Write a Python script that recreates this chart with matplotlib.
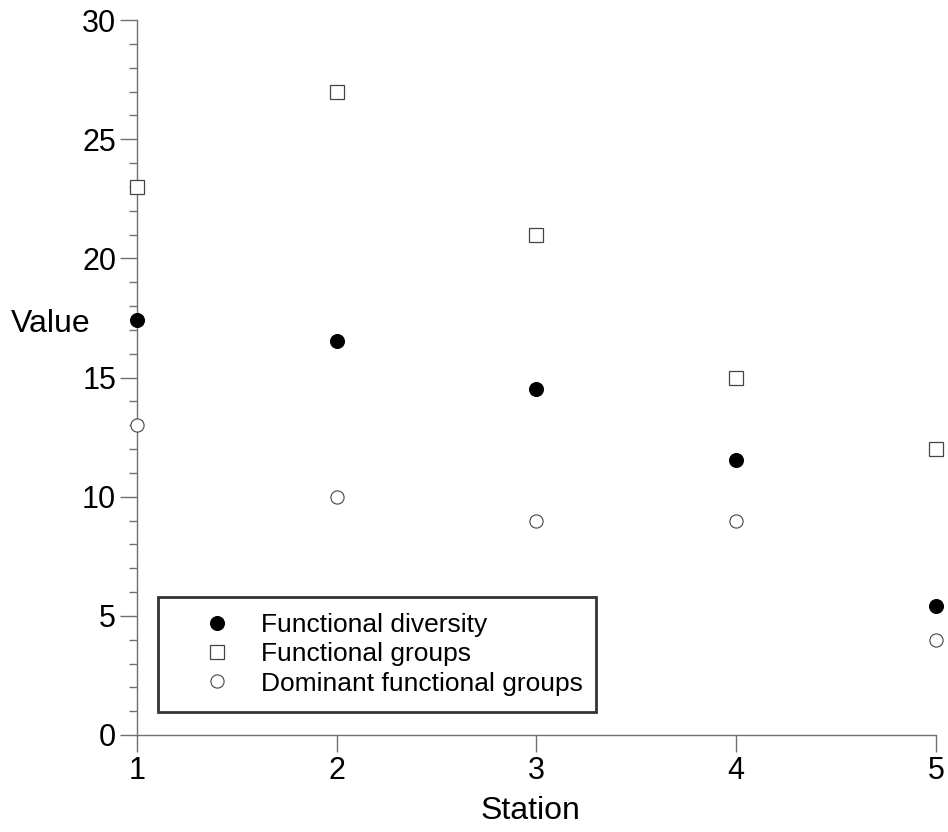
import matplotlib
matplotlib.use("Agg")
import matplotlib.pyplot as plt
from matplotlib.ticker import MultipleLocator

plt.rcParams['font.family'] = ['Liberation Sans', 'DejaVu Sans']

stations = [1, 2, 3, 4, 5]
functional_diversity = [17.4, 16.55, 14.5, 11.55, 5.4]
functional_groups = [23, 27, 21, 15, 12]
dominant_groups = [13, 10, 9, 9, 4]
x_ticks = [1, 2, 3, 4, 5]
y_ticks = [0, 5, 10, 15, 20, 25, 30]

fig = plt.figure(figsize=(9.48, 8.32), dpi=100)
ax = fig.add_axes([137/948, 97/832, (936-137)/948, (735-20)/832])

spine_col = '#707070'
ax.plot(stations, functional_diversity, linestyle='none', marker='o', ms=10,
        mfc='black', mec='black', mew=0.8, label='Functional diversity', clip_on=False, zorder=3)
ax.plot(stations, functional_groups, linestyle='none', marker='s', ms=9.5,
        mfc='white', mec='#444444', mew=0.9, label='Functional groups', clip_on=False, zorder=3)
ax.plot(stations, dominant_groups, linestyle='none', marker='o', ms=9.5,
        mfc='white', mec='#444444', mew=0.8, label='Dominant functional groups', clip_on=False, zorder=3)

ax.set_xlim(1, 5)
ax.set_ylim(0, 30)
ax.set_xticks(x_ticks)
ax.set_yticks(y_ticks)
ax.yaxis.set_minor_locator(MultipleLocator(1))

for s in ['top', 'right']:
    ax.spines[s].set_visible(False)
for s in ['left', 'bottom']:
    ax.spines[s].set_color(spine_col)
    ax.spines[s].set_linewidth(1.0)

ax.tick_params(axis='both', which='major', direction='out', length=12, width=1.0,
               color=spine_col, labelsize=22, pad=3)
ax.tick_params(axis='y', which='minor', direction='out', length=6, width=1.0, color=spine_col)

ax.set_xlabel('Station', fontsize=23, va='center')
ax.xaxis.set_label_coords(0.493, (735-811)/715)
ax.set_ylabel('Value', fontsize=23, rotation=0, va='center', ha='center')
ax.yaxis.set_label_coords((51-137)/799, (735-324)/715)

leg = ax.legend(loc='lower left', bbox_to_anchor=(21/799, (735-712)/715, 438/799, 112/715), mode='expand',
                fontsize=19, frameon=True, fancybox=False, borderpad=0.62, labelspacing=0.2,
                handletextpad=0.1, borderaxespad=0, handlelength=3.2)
leg.get_frame().set_edgecolor('black')
leg.get_frame().set_linewidth(2)

fig.savefig('out.png', dpi=100)
